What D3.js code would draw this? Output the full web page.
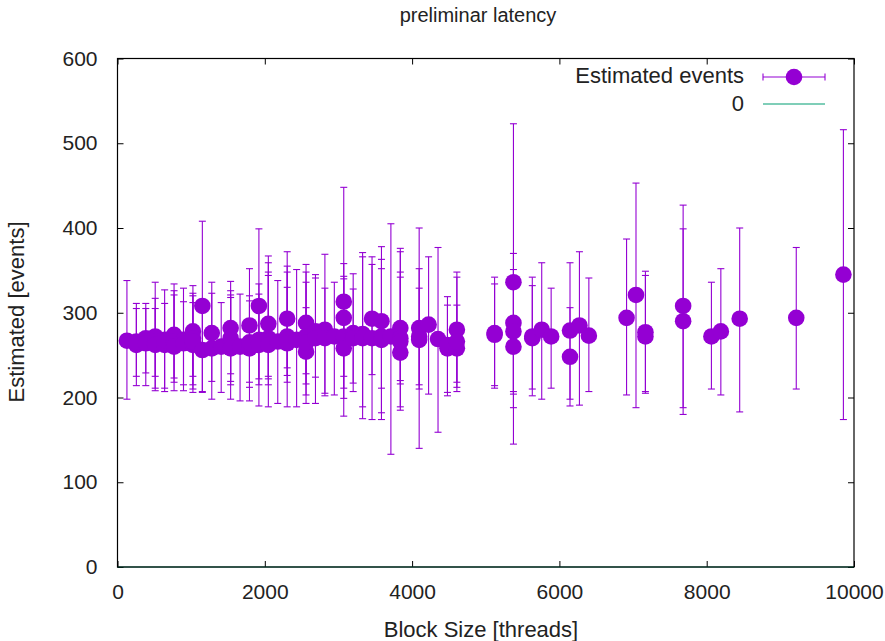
<!DOCTYPE html>
<html>
<head>
<meta charset="utf-8">
<script src="https://cdn.jsdelivr.net/npm/d3@7"></script>
<style>
  body { margin: 0; background: #fff; }
  text { font-family: "Liberation Sans", Arial, sans-serif; fill: #222; }
</style>
</head>
<body>
<div id="chart"></div>
<script>
// datos: cada punto = bloque, estimado, limite inferior, limite superior
const blockSize = [128, 256, 256, 384, 384, 512, 512, 512, 640, 640, 768, 768, 768, 896, 896,
  1024, 1024, 1024, 1024, 1152, 1152, 1280, 1280, 1408, 1536, 1536, 1536, 1536, 1664,
  1792, 1792, 1792, 1920, 1920, 1920, 2048, 2048, 2048, 2048, 2176, 2304, 2304, 2304, 2304,
  2432, 2560, 2560, 2560, 2560, 2688, 2688, 2816, 2816, 2944, 3072, 3072, 3072, 3072,
  3200, 3200, 3328, 3328, 3456, 3456, 3584, 3584, 3584, 3712, 3840, 3840, 3840, 3840,
  4096, 4096, 4096, 4224, 4352, 4480, 4480, 4608, 4608, 4608, 5120, 5120,
  5376, 5376, 5376, 5376, 5632, 5632, 5760, 5888, 6144, 6144, 6272, 6400, 6912, 7040,
  7168, 7168, 7680, 7680, 8064, 8192, 8448, 9216, 9856]
const estimated = [267, 262, 266, 270, 264, 272, 266, 262, 262, 268, 274, 266, 260, 268, 264,
  278, 270, 262, 266, 308, 256, 276, 258, 260, 282, 270, 262, 258, 260,
  285, 258, 265, 308, 268, 262, 287, 270, 266, 262, 266, 293, 272, 268, 264,
  268, 288, 272, 254, 265, 278, 270, 280, 270, 272, 313, 294, 272, 258,
  276, 270, 275, 270, 293, 270, 290, 272, 268, 272, 282, 270, 253, 266,
  282, 272, 268, 286, 269, 258, 262, 280, 258, 266, 276, 274,
  336, 288, 278, 260, 272, 270, 280, 272, 279, 248, 285, 273, 294, 321,
  277, 272, 308, 290, 272, 278, 293, 294, 345]
const lower = [198, 214, 225, 214, 229, 208, 211, 225, 207, 211, 208, 218, 223, 208, 215,
  206, 210, 215, 225, 207, 206, 198, 219, 206, 198, 215, 219, 228, 196,
  196, 212, 218, 190, 215, 222, 189, 215, 222, 225, 193, 189, 218, 226, 235,
  189, 193, 203, 216, 228, 193, 224, 202, 205, 203, 178, 225, 199, 211,
  207, 217, 175, 189, 174, 227, 174, 182, 211, 133, 185, 189, 216, 220,
  140, 210, 215, 204, 159, 202, 206, 207, 218, 212, 211, 214,
  145, 207, 204, 188, 202, 210, 198, 211, 190, 198, 191, 207, 203, 188,
  207, 205, 180, 188, 210, 203, 183, 210, 174]
const upper = [338, 311, 305, 311, 305, 336, 317, 305, 311, 327, 334, 326, 321, 329, 313,
  332, 323, 320, 312, 408, 306, 336, 323, 312, 337, 326, 321, 318, 322,
  352, 314, 320, 399, 334, 322, 367, 359, 348, 344, 338, 372, 355, 348, 330,
  351, 357, 348, 336, 306, 345, 341, 369, 329, 336, 448, 358, 343, 340,
  346, 328, 371, 366, 366, 357, 378, 363, 352, 405, 376, 372, 348, 342,
  400, 352, 329, 366, 377, 319, 309, 348, 309, 342, 342, 334,
  523, 370, 351, 332, 342, 332, 359, 329, 359, 306, 372, 341, 387, 453,
  349, 344, 427, 399, 336, 352, 400, 377, 516]

const xTicks = [0, 2000, 4000, 6000, 8000, 10000]
const yTicks = [0, 100, 200, 300, 400, 500, 600]

const data = blockSize.map((b, i) => ({ x: b, y: estimated[i], lo: lower[i], hi: upper[i] }))

// constantes y SVG
const width = 885
const height = 641
const margin = { top: 58.5, right: 31, bottom: 74, left: 117.5 }
const purple = "#9400d3"
const fontSize = 21
const labelSize = 22

const svg = d3.select("#chart").append("svg").attr("width", width).attr("height", height)

const x = d3.scaleLinear().domain([0, 10000]).range([margin.left, width - margin.right])
const y = d3.scaleLinear().domain([0, 600]).range([height - margin.bottom, margin.top])

// ejes (ticks hacia dentro, como gnuplot)
const axisGroup = svg.append("g").attr("id", "axisGroup")
axisGroup.append("g").attr("transform", `translate(0,${height - margin.bottom})`)
  .call(d3.axisBottom(x).tickValues(xTicks).tickSize(-6).tickPadding(17).tickFormat(d3.format("d")))
axisGroup.append("g").attr("transform", `translate(${margin.left},0)`)
  .call(d3.axisLeft(y).tickValues(yTicks).tickSize(-6).tickPadding(20))
axisGroup.append("g").attr("transform", `translate(0,${margin.top})`)
  .call(d3.axisTop(x).tickValues(xTicks).tickSize(-6).tickFormat(""))
axisGroup.append("g").attr("transform", `translate(${width - margin.right},0)`)
  .call(d3.axisRight(y).tickValues(yTicks).tickSize(-6).tickFormat(""))
axisGroup.selectAll(".domain").remove()
axisGroup.selectAll(".tick line").attr("stroke", "#000")
axisGroup.selectAll(".tick text").attr("font-size", fontSize).attr("fill", "#222")
  .style("font-family", "Liberation Sans, Arial, sans-serif")

// serie "0"
svg.append("line")
  .attr("x1", x(0)).attr("x2", x(10000)).attr("y1", y(0)).attr("y2", y(0))
  .attr("stroke", "#009e73").attr("stroke-width", 1)

// barras de error
const bars = svg.append("g").attr("id", "errorbars").attr("stroke", purple).attr("stroke-width", 1.1)
bars.selectAll(".bar").data(data).enter().append("line")
  .attr("class", "bar")
  .attr("x1", d => x(d.x)).attr("x2", d => x(d.x))
  .attr("y1", d => y(d.lo)).attr("y2", d => y(d.hi))
bars.selectAll(".capHi").data(data).enter().append("line")
  .attr("x1", d => x(d.x) - 3.5).attr("x2", d => x(d.x) + 3.5)
  .attr("y1", d => y(d.hi)).attr("y2", d => y(d.hi))
bars.selectAll(".capLo").data(data).enter().append("line")
  .attr("x1", d => x(d.x) - 3.5).attr("x2", d => x(d.x) + 3.5)
  .attr("y1", d => y(d.lo)).attr("y2", d => y(d.lo))

// puntos
svg.append("g").attr("id", "points").selectAll("circle").data(data).enter().append("circle")
  .attr("cx", d => x(d.x)).attr("cy", d => y(d.y)).attr("r", 8.3)
  .attr("fill", purple)

// borde
svg.append("rect")
  .attr("x", margin.left).attr("y", margin.top)
  .attr("width", width - margin.left - margin.right)
  .attr("height", height - margin.top - margin.bottom)
  .attr("fill", "none").attr("stroke", "#000").attr("stroke-width", 1.2)

// leyenda
const legend = svg.append("g").attr("id", "legend")
legend.append("text").attr("x", 744).attr("y", 83).attr("text-anchor", "end")
  .attr("font-size", labelSize).text("Estimated events")
legend.append("line").attr("x1", 763).attr("x2", 825).attr("y1", 77).attr("y2", 77)
  .attr("stroke", purple).attr("stroke-width", 1.1)
legend.selectAll(".lcap").data([763, 825]).enter().append("line")
  .attr("x1", d => d).attr("x2", d => d).attr("y1", 73.5).attr("y2", 80.5)
  .attr("stroke", purple).attr("stroke-width", 1.1)
legend.append("circle").attr("cx", 794).attr("cy", 77).attr("r", 8.3).attr("fill", purple)
legend.append("text").attr("x", 744).attr("y", 111).attr("text-anchor", "end")
  .attr("font-size", labelSize).text("0")
legend.append("line").attr("x1", 763).attr("x2", 825).attr("y1", 104).attr("y2", 104)
  .attr("stroke", "#009e73").attr("stroke-width", 1.2)

// titulos
svg.append("text").attr("x", 478).attr("y", 22).attr("text-anchor", "middle")
  .attr("font-size", 20).text("preliminar latency")
svg.append("text").attr("x", 481).attr("y", 637).attr("text-anchor", "middle")
  .attr("font-size", labelSize).text("Block Size [threads]")
svg.append("text").attr("transform", "translate(24,312) rotate(-90)").attr("text-anchor", "middle")
  .attr("font-size", labelSize).text("Estimated [events]")
</script>
</body>
</html>
